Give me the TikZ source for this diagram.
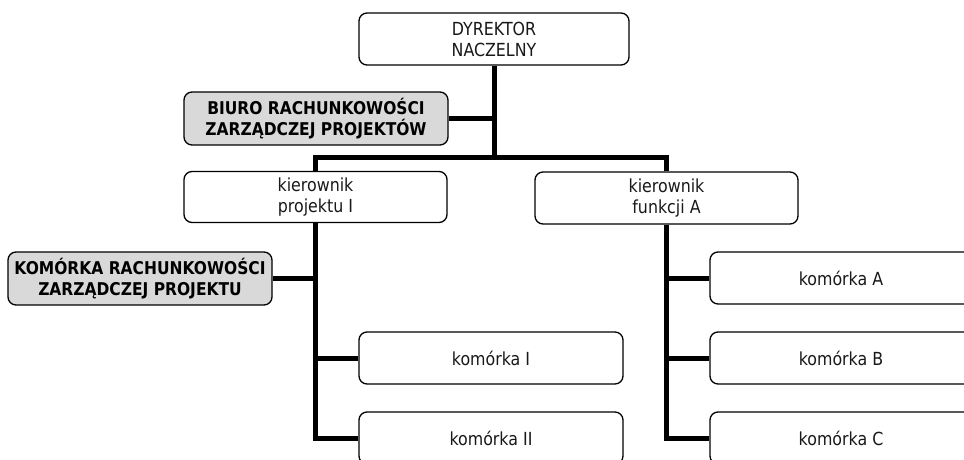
\documentclass[tikz,border=0pt]{standalone}
\usepackage{fontspec}
\setmainfont{DejaVu Sans}[FakeStretch=0.88]
\begin{document}
\begin{tikzpicture}[x=1pt,y=-1pt,
  box/.style={draw=black, line width=1.3pt, rounded corners=8pt, fill=white, inner sep=0pt,
    align=center, text=black!90, font=\fontsize{18}{21}\selectfont},
  graybox/.style={box, fill=gray!30, text=black, font=\fontsize{17.6}{21}\selectfont\bfseries},
  conn/.style={line width=5pt, line join=miter}]
\useasboundingbox (0,0) rectangle (964,460);
\clip (0,0) rectangle (964,460);
% nodes
\node[box, minimum width=270pt, minimum height=52pt] (dyr) at (494,39) {DYREKTOR\\NACZELNY};
\node[graybox, minimum width=264pt, minimum height=53pt] (biuro) at (316,118.5) {BIURO RACHUNKOWOŚCI\\ZARZĄDCZEJ PROJEKTÓW};
\node[box, minimum width=263pt, minimum height=51pt] (kp) at (315.5,197) {kierownik\\projektu I};
\node[box, minimum width=263pt, minimum height=52pt] (kf) at (666.5,198) {kierownik\\funkcji A};
\node[graybox, minimum width=264pt, minimum height=53pt] (krach) at (140,278.5) {KOMÓRKA RACHUNKOWOŚCI\\ZARZĄDCZEJ PROJEKTU};
\node[box, minimum width=264pt, minimum height=52pt] (k1) at (491,358) {komórka I};
\node[box, minimum width=264pt, minimum height=52pt] (k2) at (491,438) {komórka II};
\node[box, minimum width=262pt, minimum height=52pt] (ka) at (841,278) {komórka A};
\node[box, minimum width=262pt, minimum height=52pt] (kb) at (841,358) {komórka B};
\node[box, minimum width=262pt, minimum height=52pt] (kc) at (841,438) {komórka C};
% connectors
\coordinate (bus) at (dyr.south |- 0,157);
\draw[conn] (dyr.south) -- (bus);
\draw[conn] (biuro.east) -- (biuro.east -| bus);
\draw[conn] (kp.north) |- (bus) -| (kf.north);
\draw[conn] (kp.south) |- (k2.west);
\draw[conn] (krach.east) -- (krach.east -| kp.south);
\draw[conn] (k1.west) -- (k1.west -| kp.south);
\draw[conn] (kf.south) |- (kc.west);
\draw[conn] (ka.west) -- (ka.west -| kf.south);
\draw[conn] (kb.west) -- (kb.west -| kf.south);
\end{tikzpicture}
\end{document}
